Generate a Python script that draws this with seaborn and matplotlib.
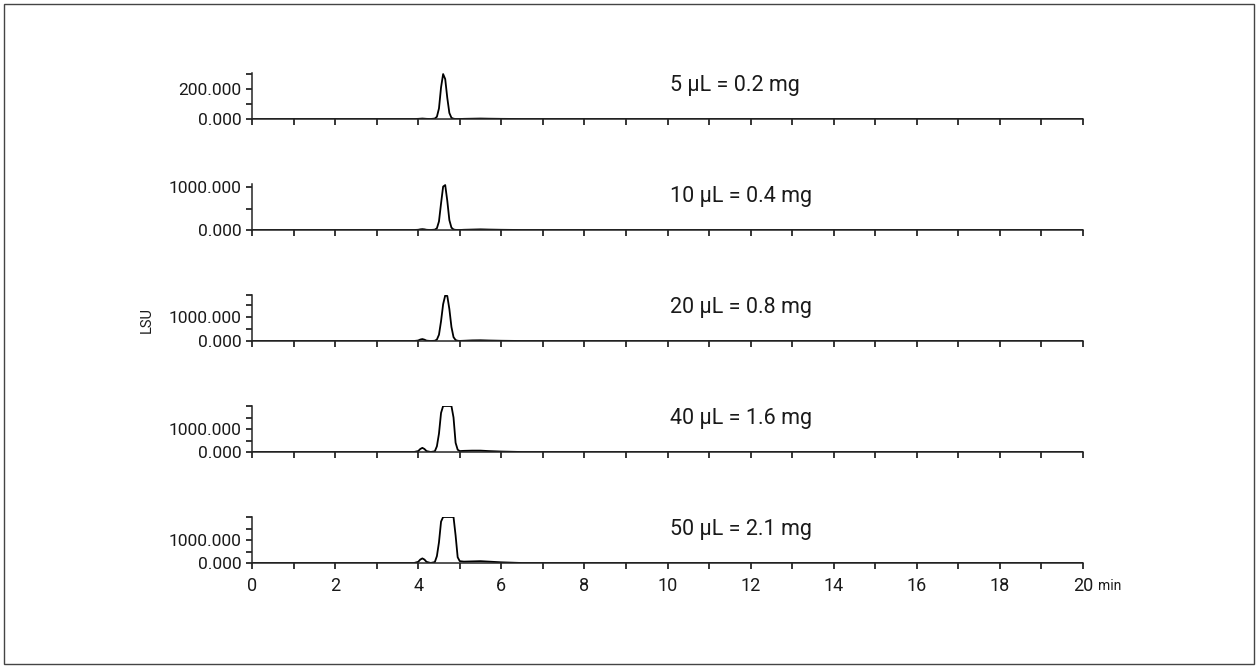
import pandas as pd
import matplotlib
matplotlib.use("Agg")
import matplotlib.pyplot as plt
import seaborn as sns
from matplotlib.patches import Rectangle
from matplotlib.ticker import MultipleLocator, FixedLocator, FixedFormatter

# retention time grid (min) shared by all traces
times = [0.0, 3.9, 4.0, 4.05, 4.1, 4.15, 4.2, 4.3, 4.4, 4.45, 4.5, 4.55, 4.6, 4.65,
         4.7, 4.75, 4.8, 4.85, 4.9, 4.95, 5.0, 5.1, 5.3, 5.5, 5.7, 6.0, 6.5, 20.0]

# signal (LSU) per injection volume
lsu_5 = [0, 0, 1, 2, 3, 2, 1, 0, 3, 15, 70, 210, 298, 265, 140, 40, 8, 2, 0, 0, 0, 1, 2, 3, 2, 1, 0, 0]
lsu_10 = [0, 0, 5, 15, 20, 15, 5, 0, 8, 40, 200, 620, 1010, 1045, 680, 230, 55, 12, 3, 1, 0, 5, 10, 15, 10, 5, 0, 0]
lsu_20 = [0, 0, 20, 60, 80, 55, 15, 0, 10, 60, 260, 820, 1520, 1880, 1860, 1320, 580, 160, 40, 10, 3, 10, 25, 30, 20, 10, 0, 0]
lsu_40 = [0, 0, 40, 130, 180, 130, 40, 0, 30, 250, 800, 1700, 2000, 2000, 2000, 2000, 2000, 1500, 400, 100, 40, 50, 60, 60, 40, 20, 0, 0]
lsu_50 = [0, 0, 50, 150, 200, 150, 50, 0, 40, 300, 900, 1800, 2000, 2000, 2000, 2000, 2000, 2000, 1200, 250, 80, 60, 70, 80, 60, 30, 0, 0]

labels = ["5 µL = 0.2 mg", "10 µL = 0.4 mg", "20 µL = 0.8 mg", "40 µL = 1.6 mg", "50 µL = 2.1 mg"]
series = [lsu_5, lsu_10, lsu_20, lsu_40, lsu_50]
ymax = [305, 1070, 1900, 2000, 2000]
yticks = [[0, 100, 200, 300], [0, 500, 1000], [0, 500, 1000, 1500, 1900],
          [0, 500, 1000, 1500, 2000], [0, 500, 1000, 1500, 2000]]
ylabels_shown = [[0, 200], [0, 1000], [0, 1000], [0, 1000], [0, 1000]]

frames = []
for lab, vals in zip(labels, series):
    frames.append(pd.DataFrame({"time": times, "lsu": vals, "sample": lab}))
df = pd.concat(frames, ignore_index=True)

sns.set_style("ticks")
plt.rcParams['font.family'] = ['Roboto', 'DejaVu Sans']
txt = "#1a1a1a"

W, H = 1260, 671
fig = plt.figure(figsize=(12.6, 6.71), dpi=100)
fig.patches.append(Rectangle((4 / W, 1 - 664 / H), 1250 / W, 660 / H, transform=fig.transFigure,
                             fill=False, edgecolor="#444444", linewidth=1.0))

left, right = 252 / W, 1083 / W
for i, lab in enumerate(labels):
    base_px = 119 + 111 * i
    top_px = base_px - 46
    ax = fig.add_axes([left, 1 - base_px / H, right - left, (base_px - top_px) / H])
    sub = df[df["sample"] == lab]
    sns.lineplot(data=sub, x="time", y="lsu", ax=ax, color="black", linewidth=1.3)
    ax.set_xlim(0, 20)
    ax.set_ylim(0, ymax[i])
    for s in ["top", "right"]:
        ax.spines[s].set_visible(False)
    ax.spines["left"].set_linewidth(1.1)
    ax.spines["bottom"].set_linewidth(1.1)
    ax.set_xlabel("")
    ax.set_ylabel("")
    ax.xaxis.set_major_locator(MultipleLocator(1))
    ax.yaxis.set_major_locator(FixedLocator(yticks[i]))
    ax.yaxis.set_major_formatter(FixedFormatter(
        [f"{v:.3f}" if v in ylabels_shown[i] else "" for v in yticks[i]]))
    ax.tick_params(axis="both", direction="out", length=4, width=1.1, colors="black",
                   labelcolor=txt, labelsize=12.5)
    if i < 4:
        ax.set_xticklabels([])
    else:
        ax.set_xticks(range(0, 21))
        ax.set_xticklabels([str(v) if v % 2 == 0 else "" for v in range(0, 21)], fontsize=13)
        ax.tick_params(axis="x", pad=6)
        ax.text(20.35, -0.5, "min", transform=ax.get_xaxis_transform(), fontsize=10,
                color=txt, va="center", ha="left")
    ax.text(10.05, 0.72, lab, transform=ax.get_xaxis_transform(), fontsize=15.5,
            color=txt, va="center", ha="left")
    ax.patch.set_visible(False)

fig.text(147 / W, 1 - 320 / H, "LSU", rotation=90, fontsize=10.5, color=txt, va="center", ha="center")

fig.savefig("out.png", dpi=100)
